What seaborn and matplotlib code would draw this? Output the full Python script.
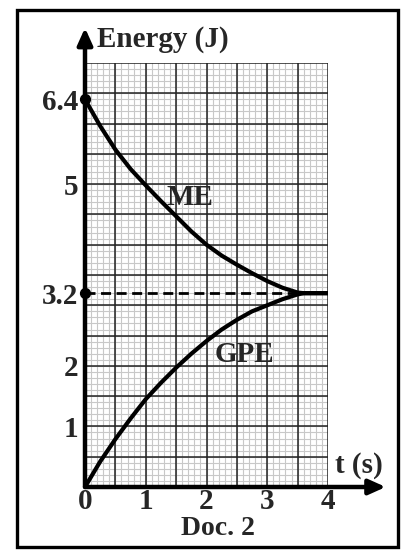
import numpy as np
import pandas as pd
import seaborn as sns
import matplotlib.pyplot as plt
from matplotlib.patches import Rectangle

# values
t_me = [0, 0.25, 0.5, 0.75, 1.0, 1.25, 1.5, 1.75, 2.0, 2.25, 2.5, 2.75, 3.0, 3.25, 3.5, 3.6, 4.0]
me = [6.4, 5.96, 5.57, 5.25, 4.98, 4.72, 4.47, 4.22, 4.0, 3.82, 3.67, 3.53, 3.4, 3.29, 3.21, 3.2, 3.2]
t_gpe = [0, 0.25, 0.5, 0.75, 1.0, 1.25, 1.5, 1.75, 2.0, 2.25, 2.5, 2.75, 3.0, 3.25, 3.5, 3.6, 4.0]
gpe = [0, 0.42, 0.79, 1.13, 1.45, 1.72, 1.97, 2.2, 2.41, 2.6, 2.76, 2.9, 3.0, 3.1, 3.18, 3.2, 3.2]

x_ticks = [0, 1, 2, 3, 4]
y_ticks = [1, 2, 3.2, 5, 6.4]
y_tick_labels = ['1', '2', '3.2', '5', '6.4']
marked_points = [6.4, 3.2]

sns.set_style('white')
plt.rcParams['font.family'] = ['Liberation Serif', 'DejaVu Serif']
plt.rcParams['font.weight'] = 'bold'

df = pd.concat([
    pd.DataFrame({'t': t_me, 'E': me, 'curve': 'ME'}),
    pd.DataFrame({'t': t_gpe, 'E': gpe, 'curve': 'GPE'}),
])

fig = plt.figure(figsize=(4.07, 5.5), dpi=100)
ax = fig.add_axes([85/407, 63/550, 243/407, 424/550])
ax.set_xlim(0, 4)
ax.set_ylim(0, 7)

# graph paper: fine 0.1 grid, darker every 0.5
for v in np.arange(0.1, 4.0, 0.1):
    ax.axvline(v, color='#c8c8c8', lw=0.8, zorder=1)
for v in np.arange(0.1, 7.0, 0.1):
    ax.axhline(v, color='#c8c8c8', lw=0.8, zorder=1)
for v in np.arange(0.5, 4.01, 0.5):
    ax.axvline(v, color='#222222', lw=1.1, zorder=2)
for v in np.arange(0.5, 7.01, 0.5):
    ax.axhline(v, color='#222222', lw=1.1, zorder=2)

ax.plot([0, 3.5], [3.2, 3.2], color='black', lw=2, ls=(0, (3.6, 2.0)), zorder=3)

sns.lineplot(data=df, x='t', y='E', units='curve', estimator=None, color='black',
             lw=3, ax=ax, zorder=4, legend=False)
for ln in ax.lines[-2:]:
    ln.set_solid_joinstyle('round')
    ln.set_solid_capstyle('round')

ax.scatter([0] * len(marked_points), marked_points, s=50, color='black', zorder=6, clip_on=False)

for s in ax.spines.values():
    s.set_visible(False)

# thick axes with arrows
arrow = dict(arrowstyle='-|>,head_length=1.0,head_width=0.45', color='black', lw=3.2, shrinkA=0, shrinkB=0)
ax.annotate('', xy=(4.95, 0), xytext=(0, 0), annotation_clip=False, arrowprops=arrow, zorder=7)
ax.annotate('', xy=(0, 7.58), xytext=(0, 0), annotation_clip=False, arrowprops=arrow, zorder=7)

ax.set_xticks(x_ticks)
ax.set_xticklabels([str(v) for v in x_ticks])
ax.set_yticks(y_ticks)
ax.set_yticklabels(y_tick_labels)
ax.tick_params(axis='both', length=0, labelsize=21)
ax.tick_params(axis='x', pad=1)
ax.tick_params(axis='y', pad=5)
for lab in ax.get_xticklabels() + ax.get_yticklabels():
    lab.set_fontweight('bold')
ax.set_xlabel('')
ax.set_ylabel('')

ax.text(0.2, 7.39, 'Energy (J)', fontsize=21, fontweight='bold', ha='left', va='center', clip_on=False)
ax.text(4.51, 0.36, 't (s)', fontsize=21, fontweight='bold', ha='center', va='center', clip_on=False)
ax.text(2.19, -0.69, 'Doc. 2', fontsize=20, fontweight='bold', ha='center', va='center', clip_on=False)
ax.text(1.73, 4.78, 'ME', fontsize=21, fontweight='bold', ha='center', va='center', zorder=5)
ax.text(2.63, 2.18, 'GPE', fontsize=21, fontweight='bold', ha='center', va='center', zorder=5)

# outer frame
fig.patches.append(Rectangle((17/407, 3/550), 381/407, 537/550, transform=fig.transFigure,
                             fill=False, edgecolor='black', lw=2.4))

fig.savefig('out.png', dpi=100, facecolor='white')
